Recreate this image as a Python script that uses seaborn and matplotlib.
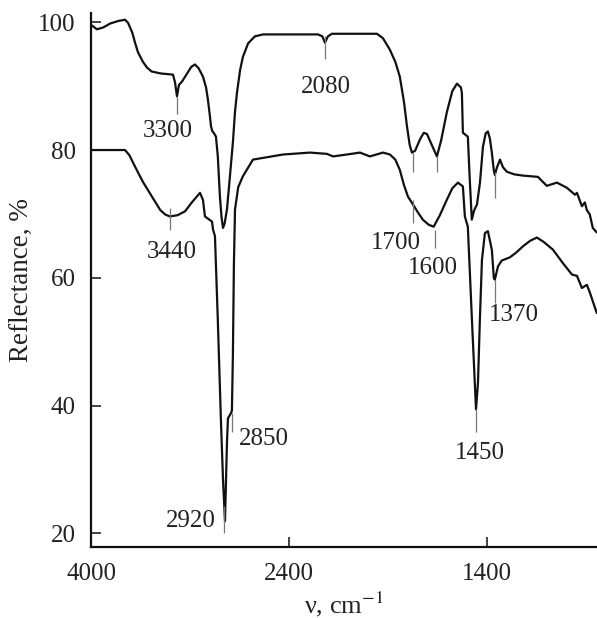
import numpy as np
import matplotlib
matplotlib.use("Agg")
import matplotlib.pyplot as plt
import seaborn as sns

# upper spectrum (wavenumber, reflectance %)
upper_wn = [4000, 3952, 3900, 3846, 3780, 3725, 3700, 3665, 3644, 3620, 3580, 3547, 3510,
            3440, 3337, 3321, 3305, 3289, 3265, 3216, 3190, 3160, 3130, 3095, 3070, 3055,
            3040, 3030, 3020, 3005, 2990, 2975, 2958, 2945, 2933, 2920, 2901, 2877, 2853,
            2836, 2820, 2795, 2772, 2730, 2675, 2610, 2165, 2130, 2109, 2085, 2053, 1844,
            1820, 1792, 1770, 1752, 1735, 1723, 1712, 1703, 1690, 1670, 1655, 1642, 1625,
            1602, 1585, 1562, 1540, 1521, 1505, 1501, 1497, 1477, 1470, 1461, 1452, 1440,
            1428, 1416, 1405, 1396, 1388, 1380, 1372, 1368, 1360, 1347, 1335, 1319, 1290,
            1255, 1194, 1158, 1117, 1077, 1044, 1036, 1016, 1004, 996, 984, 972, 956]
upper_val = [99.6, 98.9, 99.2, 99.8, 100.2, 100.4, 99.9, 98.3, 96.8, 95.3, 93.8, 92.9, 92.3,
             92.0, 91.8, 90.6, 88.4, 90.2, 90.7, 92.2, 93.0, 93.4, 92.8, 91.5, 89.8, 87.9,
             85.5, 83.7, 83.0, 82.6, 82.1, 79.0, 72.7, 69.5, 67.8, 68.5, 70.7, 75.9, 81.2,
             86.0, 89.0, 92.5, 94.6, 96.7, 97.8, 98.1, 98.1, 97.8, 96.8, 97.8, 98.2, 98.2,
             97.5, 95.7, 93.8, 91.5, 87.5, 83.7, 80.8, 79.6, 79.9, 81.7, 82.7, 82.5, 81.0,
             79.0, 81.5, 85.9, 89.2, 90.4, 89.8, 88.9, 82.7, 82.1, 76.0, 69.1, 70.5, 71.5,
             74.9, 80.5, 82.6, 82.9, 81.8, 79.6, 76.8, 76.1, 77.2, 78.5, 77.3, 76.6, 76.2,
             76.0, 75.8, 74.4, 74.9, 74.1, 73.0, 73.3, 71.2, 71.8, 70.6, 69.9, 67.8, 67.1]

# lower spectrum
lower_wn = [4000, 3725, 3690, 3644, 3580, 3507, 3440, 3400, 3362, 3300, 3240, 3185, 3119,
            3095, 3079, 3022, 3014, 2998, 2975, 2950, 2933, 2917, 2909, 2901, 2893, 2869,
            2861, 2853, 2845, 2836, 2810, 2772, 2691, 2448, 2230, 2093, 2044, 1966, 1913,
            1873, 1820, 1792, 1770, 1752, 1735, 1719, 1699, 1680, 1659, 1635, 1615, 1590,
            1562, 1540, 1517, 1497, 1489, 1477, 1461, 1444, 1436, 1428, 1420, 1408, 1396,
            1380, 1372, 1368, 1355, 1340, 1307, 1280, 1255, 1225, 1198, 1170, 1133, 1093,
            1056, 1036, 1016, 996, 984, 956]
lower_val = [80.0, 80.0, 79.2, 77.4, 75.0, 72.7, 70.6, 69.9, 69.6, 69.8, 70.4, 71.8, 73.3,
             72.2, 69.6, 68.8, 67.6, 66.5, 53.4, 37.8, 28.4, 21.9, 28.0, 34.2, 38.0, 38.8,
             39.2, 48.0, 62.0, 70.7, 74.2, 75.9, 78.5, 79.3, 79.6, 79.4, 79.0, 79.3, 79.6,
             79.0, 79.6, 79.3, 78.5, 76.9, 74.5, 72.7, 71.5, 70.3, 69.1, 68.3, 68.0, 69.8,
             72.2, 74.0, 74.9, 74.3, 69.6, 68.0, 53.9, 39.4, 43.6, 53.9, 62.8, 67.0, 67.3,
             64.4, 60.0, 59.7, 61.8, 62.7, 63.2, 64.0, 64.9, 65.8, 66.3, 65.6, 64.4, 62.3,
             60.5, 60.3, 58.4, 58.9, 57.7, 54.5]

# peak markers: position, from, to
mark_x = [3305, 3362, 2925, 2861, 2109, 1699, 1602, 1699, 1610, 1444, 1368, 1368]
mark_y0 = [88.4, 71.0, 24.2, 38.9, 97.8, 79.6, 79.0, 72.2, 67.5, 39.4, 76.5, 59.7]
mark_y1 = [85.6, 67.5, 20.1, 35.8, 94.2, 76.5, 76.5, 68.6, 64.7, 35.9, 72.5, 56.1]

# peak labels
label_text = ["3300", "3440", "2920", "2850", "2080", "1700", "1600", "1370", "1450"]
label_x = [3378, 3345, 3192, 2602, 2101, 1768, 1618, 1291, 1428]
label_y = [83.0, 64.1, 22.0, 34.7, 89.9, 65.5, 61.5, 54.1, 32.6]


def fwd(w):
    # wavenumber axis is stretched twice below 2000 cm-1
    w = np.asarray(w, dtype=float)
    return np.where(w >= 2000, w, 2 * w - 2000)


def inv(p):
    p = np.asarray(p, dtype=float)
    return np.where(p >= 2000, p, (p + 2000) / 2)


sns.set_style("ticks")
plt.rcParams['font.family'] = ['Liberation Serif', 'DejaVu Serif']
plt.rcParams['mathtext.fontset'] = 'stix'

fig = plt.figure(figsize=(5.97, 6.18), dpi=100)
ax = fig.add_axes([91 / 597, 71.3 / 618, 506 / 597, 534 / 618])

sns.lineplot(x=upper_wn, y=upper_val, ax=ax, color='#111111', linewidth=1.6)
sns.lineplot(x=lower_wn, y=lower_val, ax=ax, color='#111111', linewidth=1.6)

ax.vlines(mark_x, mark_y0, mark_y1, color='#777777', linewidth=0.9)
for t, x, y in zip(label_text, label_x, label_y):
    ax.text(x, y, t, ha='center', va='center', fontsize=18, color='#222222')

ax.set_xscale('function', functions=(fwd, inv))
ax.set_xlim(4000, 955)
ax.set_ylim(17.9, 101.5)
ax.set_xticks([4000, 2400, 1400])
ax.set_xticklabels(['4000', '2400', '1400'])
ax.set_yticks([20, 40, 60, 80, 100])
ax.minorticks_off()

ax.tick_params(direction='in', length=7, width=1.2, labelsize=18, colors='#222222')
ax.tick_params(axis='x', pad=12)
ax.tick_params(axis='y', pad=11)
for side in ['top', 'right']:
    ax.spines[side].set_visible(False)
for side in ['left', 'bottom']:
    ax.spines[side].set_linewidth(1.6)
    ax.spines[side].set_color('#111111')

ax.set_xlabel(r'ν, cm$^{-1}$', fontsize=19, color='#222222')
ax.set_ylabel('Reflectance, %', fontsize=19.5, color='#222222')
ax.yaxis.set_label_coords(-0.112, 0.5)
ax.xaxis.set_label_coords(0.5, -0.08)

fig.savefig('out.png', dpi=100)
